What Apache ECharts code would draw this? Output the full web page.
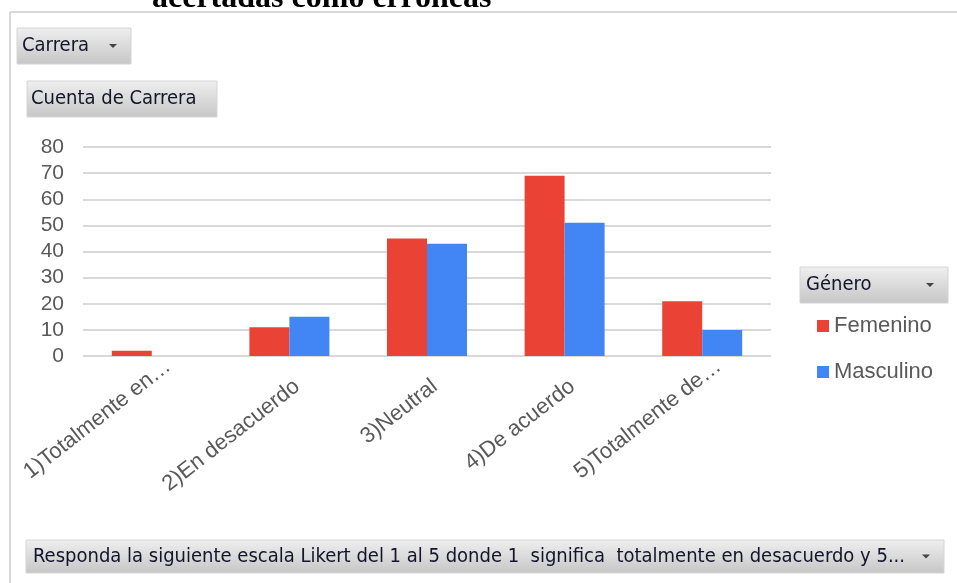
<!DOCTYPE html>
<html><head><meta charset="utf-8">
<script src="https://cdn.jsdelivr.net/npm/echarts@6/dist/echarts.min.js"></script>
<style>html,body{margin:0;padding:0;background:#fff}#c{width:957px;height:583px}</style>
</head><body><div id="c"></div>
<script>
const categories = ['1)Totalmente en…', '2)En desacuerdo', '3)Neutral', '4)De acuerdo', '5)Totalmente de…'];
const femenino = [2, 11, 45, 69, 21];
const masculino = [0, 15, 43, 51, 10];
const seriesNames = ['Femenino', 'Masculino'];
const yTicks = { min: 0, max: 80, interval: 10 };

const chart = echarts.init(document.getElementById('c'), null, { renderer: 'canvas' });
const btnFill = { type: 'linear', x: 0, y: 0, x2: 0, y2: 1, colorStops: [{ offset: 0, color: '#efefef' }, { offset: 1, color: '#c6c6c6' }] };
const btnFont = '"DejaVu Sans Condensed", "Liberation Sans Narrow", sans-serif';
function button(x, y, w, h, label, arrow, pad) {
  const children = [
    { type: 'rect', shape: { x: 0, y: 0, width: w, height: h }, style: { fill: btnFill, stroke: '#d4d4d4', lineWidth: 1 } },
    { type: 'text', style: { x: pad, y: h / 2, text: label, fill: '#14142a', font: '20px ' + btnFont, verticalAlign: 'middle' } }
  ];
  if (arrow) children.push({ type: 'polygon', shape: { points: [[w - 22, h / 2 - 2], [w - 14, h / 2 - 2], [w - 18, h / 2 + 2]] }, style: { fill: '#444' } });
  return { type: 'group', x: x, y: y, children: children };
}
const labelFont = 'Liberation Sans, Arial, sans-serif';
chart.setOption({
  animation: false,
  backgroundColor: '#fff',
  color: ['#EA4335', '#4285F4'],
  grid: { left: 83, right: 186, top: 147, bottom: 227, containLabel: false },
  legend: {
    orient: 'vertical', left: 812, top: 310, itemGap: 24, itemWidth: 12, itemHeight: 12, icon: 'rect',
    data: seriesNames,
    textStyle: { color: '#595959', fontSize: 22, fontFamily: labelFont }
  },
  xAxis: {
    type: 'category', data: categories,
    axisLine: { show: false }, axisTick: { show: false },
    axisLabel: {
      rotate: 38, interval: 0, margin: 34, color: '#595959', fontSize: 22, fontFamily: labelFont,
      formatter: function (v) { return v.endsWith('…') ? '{t|' + v + '}' : '{n|' + v + '}'; },
      rich: {
        t: { fontSize: 22, fontFamily: labelFont, color: '#595959', padding: [0, -29, 21, 0] },
        n: { fontSize: 22, fontFamily: labelFont, color: '#595959', padding: [0, -10, 0, 0] }
      }
    }
  },
  yAxis: {
    type: 'value', min: yTicks.min, max: yTicks.max, interval: yTicks.interval,
    axisLine: { show: false }, axisTick: { show: false },
    axisLabel: { color: '#595959', fontSize: 21, margin: 19, fontFamily: labelFont },
    splitLine: { lineStyle: { color: '#d9d9d9', width: 2 } }
  },
  series: [
    { name: seriesNames[0], type: 'bar', data: femenino, barWidth: 40, barGap: '0%' },
    { name: seriesNames[1], type: 'bar', data: masculino, barWidth: 40, barGap: '0%' }
  ],
  graphic: [
    { type: 'text', style: { x: 152, y: -1, text: 'acertadas como erróneas', fill: '#000', verticalAlign: 'middle', font: 'bold 32px "Liberation Serif", "Times New Roman", serif' } },
    { type: 'line', shape: { x1: 10, y1: 12, x2: 957, y2: 12 }, style: { stroke: '#d9d9d9', lineWidth: 2 } },
    { type: 'line', shape: { x1: 10, y1: 12, x2: 10, y2: 583 }, style: { stroke: '#d9d9d9', lineWidth: 2 } },
    button(17, 28, 114, 36, 'Carrera', true, 5),
    button(27, 81, 190, 36, 'Cuenta de Carrera', false, 4),
    button(800, 267, 148, 36, 'Género', true, 6),
    button(26, 540, 918, 33, 'Responda la siguiente escala Likert del 1 al 5 donde 1  significa  totalmente en desacuerdo y 5...', true, 7)
  ]
});
</script></body></html>
